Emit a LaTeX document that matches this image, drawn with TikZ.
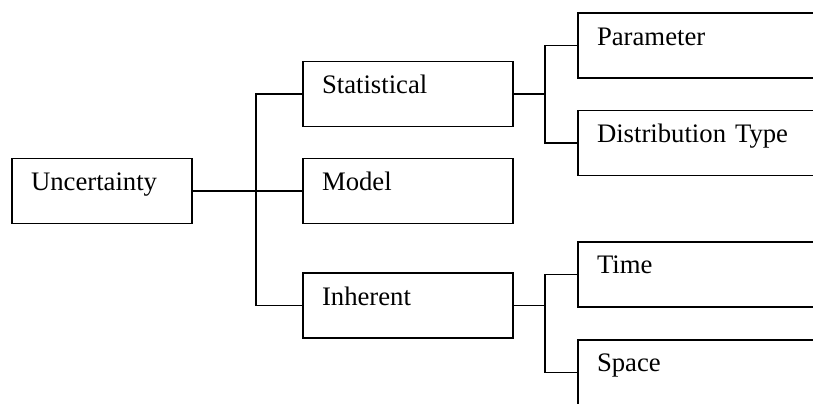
\documentclass[tikz,border=0pt]{standalone}
\usepackage{fontspec}
\setmainfont{Liberation Serif}

\begin{document}
\begin{tikzpicture}[line width=1.1pt,
	box/.style={draw, rectangle, align=left, inner xsep=0.475cm, inner ysep=0pt,
		text height=0.8cm, text depth=0.825cm, font=\fontsize{19}{23}\selectfont}]
	\useasboundingbox (0,0) rectangle (20.325,-10.075);
	\clip (0,0) rectangle (20.325,-10.075);

	\node[box, text width=3.55cm] (U) at (2.55,-4.775) {Uncertainty};

	\node[box, text width=4.3cm] (S) at (10.2,-2.35) {Statistical};
	\node[box, text width=4.3cm] (M) at (10.2,-4.775) {Model};
	\node[box, text width=4.3cm] (I) at (10.2,-7.64) {Inherent};

	\node[box, text width=6.05cm] (P) at (17.95,-1.14) {Parameter};
	\node[box, text width=6.05cm] (D) at (17.95,-3.575) {Distribution Type};
	\node[box, text width=6.05cm] (T) at (17.95,-6.86) {Time};
	\node[box, text width=6.05cm] (Sp) at (17.95,-9.31) {Space};

	\coordinate (j1) at (6.4,-4.775);
	\coordinate (j2) at (13.625,-2.35);
	\coordinate (j3) at (13.625,-7.64);

	\draw (U) -- (M);
	\draw (S.west) -| (j1) |- (I.west);

	\draw (S.east) -- (j2);
	\draw (P.west) -| (j2) |- (D.west);

	\draw (I.east) -- (j3);
	\draw (T.west) -| (j3) |- (Sp.west);

\end{tikzpicture}
\end{document}
